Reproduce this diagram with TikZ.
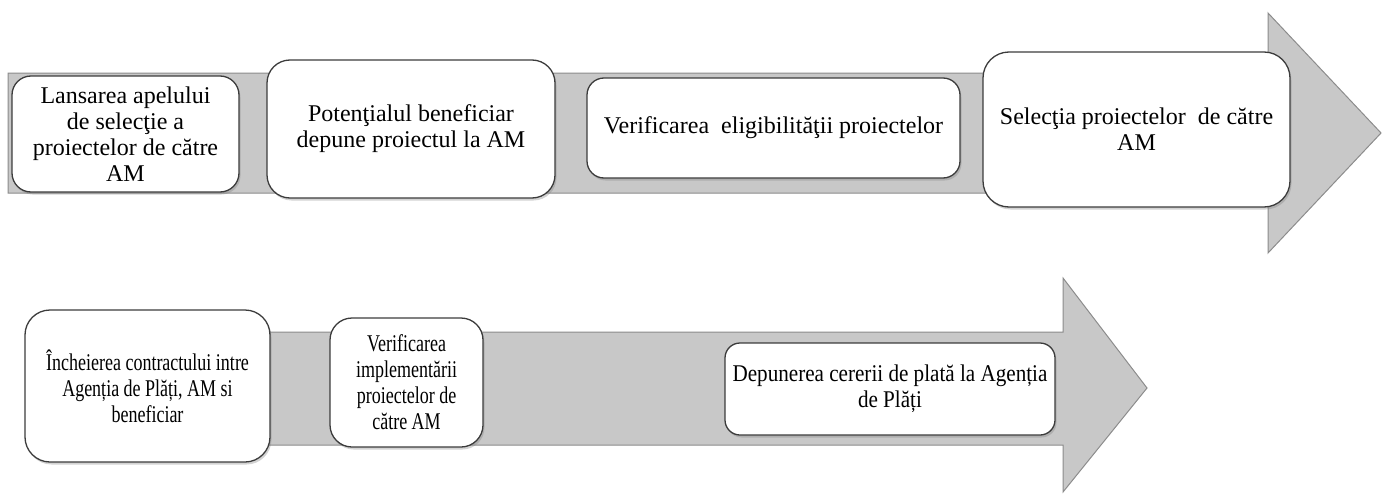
\documentclass[tikz,border=0pt]{standalone}
\usepackage{fontspec}
\setmainfont{Liberation Serif}
\newfontfamily\narrowA[FakeStretch=0.75]{Liberation Serif}
\newfontfamily\narrowB[FakeStretch=0.88]{Liberation Serif}
\usetikzlibrary{shadows}
\definecolor{arrowfill}{HTML}{C8C8C8}
\definecolor{arrowline}{HTML}{8C8C8C}
\definecolor{boxline}{HTML}{3C3C3C}
\tikzset{
  bigarrow/.style={fill=arrowfill, draw=arrowline, line width=1pt, line join=miter},
  box/.style={draw=boxline, fill=white, line width=1.3pt, align=center, inner sep=0pt,
    drop shadow={shadow xshift=1.5pt, shadow yshift=-2.5pt, opacity=0.35},
    font=\fontsize{24}{26}\selectfont},
  boxA/.style={box, font=\narrowA\fontsize{24}{26}\selectfont},
  boxB/.style={box, font=\narrowB\fontsize{24}{26}\selectfont},
}
\begin{document}
\begin{tikzpicture}[x=1pt,y=-1pt]
\useasboundingbox (0,0) rectangle (1383,495);
% top process arrow
\draw[bigarrow] (8,73) -- (1268,73) -- (1268,13) -- (1381,133) -- (1268,253) -- (1268,193) -- (8,193) -- cycle;
% bottom process arrow
\draw[bigarrow] (30,332) -- (1063,332) -- (1063,278) -- (1147,388) -- (1063,492) -- (1063,445) -- (30,445) -- cycle;
% top boxes
\node[box, minimum width=227, minimum height=116, rounded corners=19] (b1) at (125.5,134)
  {Lansarea apelului\\de selecţie a\\proiectelor de către\\AM};
\node[box, minimum width=288, minimum height=138, rounded corners=23] (b2) at (411,129)
  {Potenţialul beneficiar\\depune proiectul la AM};
\node[box, minimum width=373, minimum height=100, rounded corners=17] (b3) at (773.5,128)
  {Verificarea\ \ eligibilităţii proiectelor};
\node[box, minimum width=307, minimum height=155, rounded corners=26] (b4) at (1136.5,129.5)
  {Selecţia proiectelor\ \ de către\\AM};
% bottom boxes
\node[boxA, minimum width=245, minimum height=152, rounded corners=25] (b5) at (147.5,386)
  {Încheierea contractului intre\\Agenția de Plăți, AM si\\beneficiar};
\node[boxA, minimum width=153, minimum height=129, rounded corners=22] (b6) at (406.5,382.5)
  {Verificarea\\implementării\\proiectelor de\\către AM};
\node[boxB, minimum width=330, minimum height=92, rounded corners=15] (b7) at (890,389)
  {Depunerea cererii de plată la Agenția\\de Plăți};
\end{tikzpicture}
\end{document}
